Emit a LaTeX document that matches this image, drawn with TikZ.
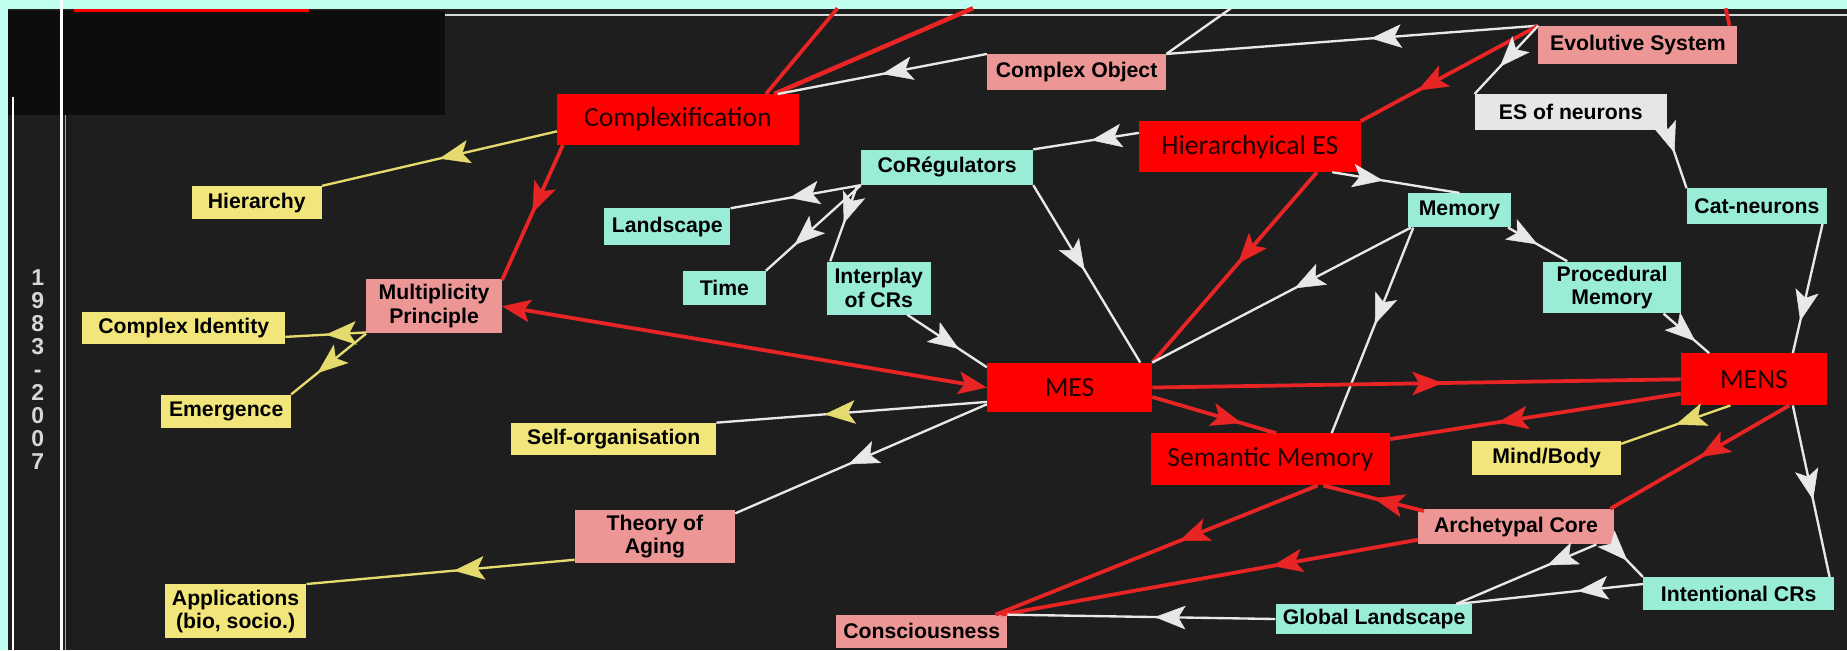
\documentclass[tikz,border=0pt]{standalone}
\usepackage{fontspec}
\setmainfont{Liberation Sans}
\newfontfamily\calfont{Carlito}
\usetikzlibrary{arrows.meta,decorations.markings,calc}
\definecolor{cBg}{RGB}{192,255,240}
\definecolor{cPanel}{RGB}{30,30,30}
\definecolor{cBlk}{RGB}{13,13,13}
\definecolor{cR}{RGB}{255,0,0}
\definecolor{cRl}{RGB}{232,36,36}
\definecolor{cP}{RGB}{236,150,150}
\definecolor{cA}{RGB}{153,236,214}
\definecolor{cY}{RGB}{242,230,122}
\definecolor{cG}{RGB}{230,230,230}
\definecolor{cW}{RGB}{232,232,232}
\definecolor{cYl}{RGB}{228,218,110}
\definecolor{cRt}{RGB}{35,0,0}
\definecolor{cYr}{RGB}{215,215,215}
\tikzset{
  bx/.style={inner sep=0pt, align=center, font=\fontsize{18}{20}\selectfont\bfseries, text=black},
  yb/.style={bx, fill=cY},
  ab/.style={bx, fill=cA},
  pb/.style={bx, fill=cP},
  gb/.style={bx, fill=cG},
  rb/.style={inner sep=0pt, fill=cR, font=\calfont\fontsize{23.5}{24}\selectfont, text=cRt},
  sz/.style 2 args={minimum width=#1pt, minimum height=#2pt},
  wl/.style={draw=cW, line width=2pt},
  rl/.style={draw=cRl, line width=3.2pt},
  yl/.style={draw=cYl, line width=2pt},
  midtip/.tip={Stealth[length=26pt 0,width=20pt 0,inset=6pt 0]},
  wa/.style={wl, postaction={decorate, decoration={markings, mark=at position #1 with {\arrow[cW, line width=0.4pt]{midtip}}}}},
  wa/.default=0.5,
  wya/.style={wl, postaction={decorate, decoration={markings, mark=at position #1 with {\arrow[cYl, line width=0.4pt]{midtip}}}}},
  wya/.default=0.5,
  ya/.style={yl, postaction={decorate, decoration={markings, mark=at position #1 with {\arrow[cYl, line width=0.4pt]{midtip}}}}},
  ya/.default=0.5,
  ra/.style={rl, postaction={decorate, decoration={markings, mark=at position #1 with {\arrow[cRl, line width=0.4pt]{midtip}}}}},
  ra/.default=0.5,
  rtip/.tip={Stealth[length=24pt 0,width=19pt 0,inset=5pt 0]},
}
\begin{document}
\begin{tikzpicture}[x=1pt,y=-1pt]
\useasboundingbox (0,0) rectangle (1568,552);
% background and frames
\fill[cBg] (0,0) rectangle (1568,552);
\fill[cPanel] (7,8) rectangle (1568,552);
\fill[cBlk] (7,9.5) rectangle (378,98);
\fill[cR] (63,7.5) rectangle (262,10);
\draw[white, line width=1.2pt] (11,82) -- (11,552);
\draw[white, line width=2.4pt] (52,0) -- (52,552);
\draw[gray!70, line width=1pt] (55.5,98) -- (55.5,552);
\draw[white!85!black, line width=1.6pt] (378,12.5) -- (1568,12.5);
\node[font=\fontsize{19.5}{19.5}\selectfont\bfseries, text=cYr, align=center] (yr) at (32,314) {1\\9\\8\\3\\-\\2\\0\\0\\7};

% nodes
\node[rb, sz={205}{43}] (cplx) at (575.5,101.5) {Complexification};
\node[pb, sz={152}{30}] (cobj) at (914,61) {Complex Object};
\node[pb, sz={169}{32}] (evo) at (1390.5,38) {Evolutive System};
\node[gb, sz={163}{30}] (esn) at (1333.5,95) {ES of neurons};
\node[rb, sz={188}{43}] (hes) at (1061,124.5) {Hierarchyical ES};
\node[ab, sz={146}{30}] (coreg) at (804,142) {CoRégulators};
\node[ab, sz={107}{31}] (land) at (566.5,192.5) {Landscape};
\node[ab, sz={70}{29}] (time) at (615,244.5) {Time};
\node[ab, sz={88}{45}] (inter) at (746,244.5) {Interplay\\of CRs};
\node[ab, sz={88}{29}] (mem) at (1239,178.5) {Memory};
\node[ab, sz={119}{30}] (catn) at (1491.5,175) {Cat-neurons};
\node[ab, sz={117}{44}] (proc) at (1368.5,244) {Procedural\\Memory};
\node[yb, sz={110}{28}] (hier) at (218,172) {Hierarchy};
\node[pb, sz={115}{46}] (mult) at (368.5,260) {Multiplicity\\Principle};
\node[yb, sz={172}{27}] (cid) at (156,278.5) {Complex Identity};
\node[yb, sz={110}{28}] (emer) at (192,349) {Emergence};
\node[rb, sz={140}{42}] (mes) at (908,329) {MES};
\node[rb, sz={124}{44}] (mens) at (1489,322) {MENS};
\node[yb, sz={174}{27}] (selforg) at (521,372.5) {Self-organisation};
\node[rb, sz={203}{44}] (sem) at (1078.5,390) {Semantic Memory};
\node[yb, sz={126}{29}] (mind) at (1313,388.5) {Mind/Body};
\node[pb, sz={136}{45}] (aging) at (556,455.5) {Theory of\\Aging};
\node[pb, sz={166}{30}] (arch) at (1287,447) {Archetypal Core};
\node[yb, sz={120}{46}] (appl) at (200,519) {Applications\\(bio, socio.)};
\node[pb, sz={145}{28}] (cons) at (782.5,536) {Consciousness};
\node[ab, sz={167}{25}] (glob) at (1166.5,525.5) {Global Landscape};
\node[ab, sz={162}{28}] (intcr) at (1476,504) {Intentional CRs};

% free ends at the top edge
\coordinate (t1) at (711,7);
\coordinate (t2) at (826,7);
\coordinate (t3) at (1045,7);
\coordinate (t4) at (1465,7);

% connectors
\draw[rl] ([xshift=-28pt]cplx.north east) -- (t1);
\draw[rl, line width=3.8pt] ([xshift=-21pt]cplx.north east) -- (t2);
\draw[wl] (cobj.north east) -- (t3);
\draw[rl] ([xshift=-7pt]evo.north east) -- (t4);
\draw[wa=0.45] (evo.north west) -- (cobj.north east);
\draw[wa=0.5] (cobj.north west) -- ([xshift=-18pt]cplx.north east);
\draw[ra=0.68] (evo.north west) -- (hes.north east);
\draw[wa=0.6] (evo.north west) -- (esn.north west);
\draw[wa=0.45] ([xshift=-2pt,yshift=5pt]esn.south east) -- (catn.north west);
\draw[wa=0.75] ([xshift=-4pt]catn.south east) -- ([xshift=33pt]mens.north);
\draw[wa=0.55] ([xshift=33pt]mens.south) -- ([xshift=-4pt]intcr.north east);
\draw[wa=0.45] ([yshift=-10pt]hes.north west) -- (coreg.north east);
\draw[wa=0.4] ([xshift=70pt]hes.south) -- (mem.north);
\draw[ra=0.48] ([xshift=57pt]hes.south) -- (mes.north east);
\draw[wa=0.5] ([xshift=-3pt]mem.south east) -- ([xshift=-38pt]proc.north);
\draw[wa=0.7] ([xshift=-15pt]proc.south east) -- ([xshift=-38pt]mens.north);
\draw[wa=0.45] ([xshift=3pt]mem.south west) -- (mes.north east);
\draw[wa=0.47] ([xshift=5pt]mem.south west) -- ([xshift=52pt]sem.north);
\draw[wa=0.55] (coreg.south west) -- (land.north east);
\draw[wa=0.7] (coreg.south west) -- (time.north east);
\draw[wa=0.5] ([xshift=-3pt]coreg.south west) -- ([xshift=3pt]inter.north west);
\draw[wa=0.48] (coreg.south east) -- ([xshift=60pt]mes.north);
\draw[wa=0.65] ([xshift=-20pt]inter.south east) -- ([yshift=-4pt]mes.north west);
\draw[rl, rtip-rtip] (mult.east) -- (mes.west);
\draw[wya=0.6] ([yshift=9pt]mes.south west) -- (selforg.north east);
\draw[wa=0.55] ([yshift=7pt]mes.south west) -- ([yshift=-3pt]aging.north east);
\draw[ra=0.55] (mes.east) -- (mens.west);
\draw[ra=0.72] ([yshift=-8pt]mes.east) -- ([xshift=5pt]sem.north);
\draw[ra=0.63] ([yshift=10pt]mens.south west) -- ([yshift=-5pt]sem.north east);
\draw[ya=0.5] ([xshift=-20pt]mens.south) -- ([yshift=-3pt]mind.north east);
\draw[ra=0.5] ([xshift=30pt]mens.south) -- ([xshift=-3pt]arch.north east);
\draw[ra=0.5] ([xshift=5pt,yshift=-2pt]arch.north west) -- ([xshift=45pt]sem.south);
\draw[ra=0.43] ([xshift=40pt]sem.south) -- ([xshift=-10pt]cons.north east);
\draw[ra=0.35] ([yshift=4pt]arch.south west) -- ([xshift=-5pt]cons.north east);
\draw[wa=0.5] ([xshift=-2pt]arch.south east) -- (intcr.north west);
\draw[wa=0.35] ([xshift=-15pt]arch.south east) -- ([xshift=-14pt]glob.north east);
\draw[wa=0.35] ([yshift=-6pt]intcr.north west) -- ([xshift=-14pt]glob.north east);
\draw[wa=0.45] (glob.west) -- (cons.north east);
\draw[ya=0.5] ([yshift=-10pt]cplx.west) -- (hier.north east);
\draw[ra=0.5] ([xshift=5pt]cplx.south west) -- ([yshift=-1pt]mult.north east);
\draw[ya=0.5] ([yshift=1pt]mult.south west) -- ([yshift=-7.5pt]cid.east);
\draw[ya=0.65] (mult.south west) -- (emer.north east);
\draw[ya=0.45] ([yshift=3pt]aging.south west) -- (appl.north east);
\end{tikzpicture}
\end{document}
